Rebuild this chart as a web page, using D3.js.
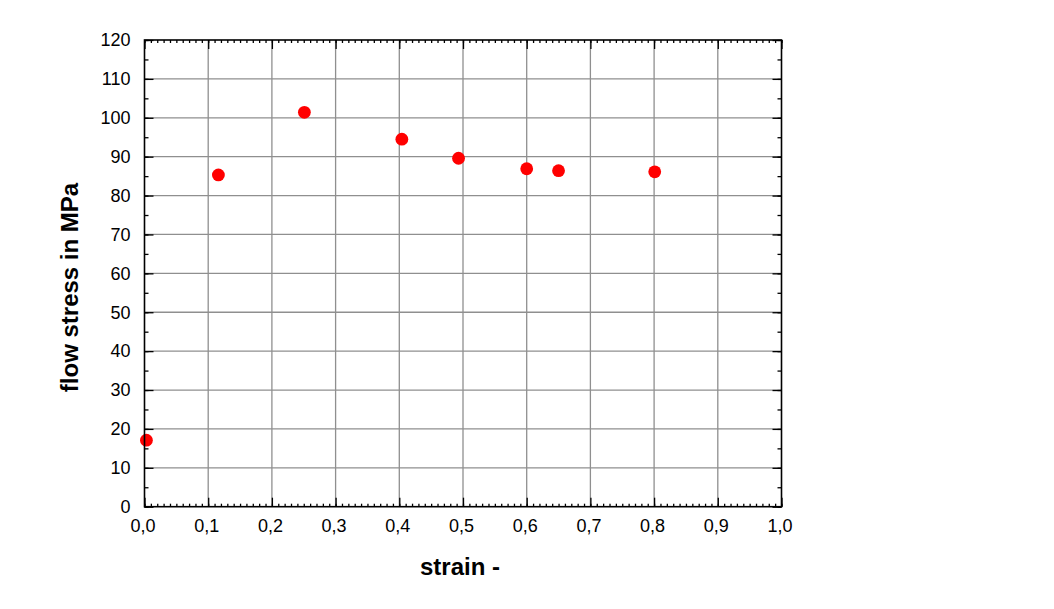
<!DOCTYPE html>
<html><head><meta charset="utf-8">
<script src="https://cdn.jsdelivr.net/npm/d3@7"></script>
<style>body{margin:0;background:#fff}svg{display:block}</style>
</head><body>
<svg id="c" width="1054" height="609"></svg>
<script>
const strain = [0.003, 0.116, 0.251, 0.404, 0.493, 0.600, 0.650, 0.801];
const flowStress = [17.1, 85.3, 101.4, 94.5, 89.6, 86.9, 86.4, 86.1];
const xTicks = [0,0.1,0.2,0.3,0.4,0.5,0.6,0.7,0.8,0.9,1.0];
const yTicks = [0,10,20,30,40,50,60,70,80,90,100,110,120];
const xTitle = "strain -";
const yTitle = "flow stress in MPa";

const L=144.5, R=781.5, T=40, B=506.7;
const svg = d3.select("#c");
const x = d3.scaleLinear().domain([0,1]).range([L,R]);
const y = d3.scaleLinear().domain([0,120]).range([B,T]);
const font = "Liberation Sans, Arial, sans-serif";

// grid
const g = svg.append("g");
g.selectAll("line.vx").data(xTicks.slice(1,-1)).join("line")
 .attr("x1",d=>x(d)).attr("x2",d=>x(d)).attr("y1",T).attr("y2",B)
 .attr("stroke","#8f8f8f").attr("stroke-width",1.3);
g.selectAll("line.hy").data(yTicks.slice(1,-1)).join("line")
 .attr("y1",d=>y(d)).attr("y2",d=>y(d)).attr("x1",L).attr("x2",R)
 .attr("stroke","#8f8f8f").attr("stroke-width",1.3);

// points
svg.append("g").selectAll("circle").data(strain).join("circle")
 .attr("cx",d=>x(d)).attr("cy",(d,i)=>y(flowStress[i])).attr("r",6.4).attr("fill","#ff0000");

// axes with inward ticks
const xMinor = d3.range(0,101).map(i=>i/100);
const yMinor = d3.range(0,25).map(i=>i*5);
function styleAxis(sel){
  sel.select(".domain").remove();
  sel.selectAll("line").attr("stroke","#000").attr("stroke-width",1.3);
}
// bottom
svg.append("g").attr("transform",`translate(0,${B})`)
 .call(d3.axisBottom(x).tickValues(xMinor).tickSize(-3).tickFormat(""))
 .call(styleAxis);
svg.append("g").attr("transform",`translate(0,${B})`)
 .call(d3.axisBottom(x).tickValues(xTicks).tickSize(-9).tickPadding(13)
   .tickFormat(d=>d3.format(".1f")(d).replace(".",",")))
 .call(styleAxis)
 .call(s=>s.selectAll("text").attr("font-family",font).attr("font-size",18).attr("fill","#000").attr("dx",-2));
// top
svg.append("g").attr("transform",`translate(0,${T})`)
 .call(d3.axisTop(x).tickValues(xMinor).tickSize(-3).tickFormat("")).call(styleAxis);
svg.append("g").attr("transform",`translate(0,${T})`)
 .call(d3.axisTop(x).tickValues(xTicks).tickSize(-9).tickFormat("")).call(styleAxis);
// left
svg.append("g").attr("transform",`translate(${L},0)`)
 .call(d3.axisLeft(y).tickValues(yMinor).tickSize(-4).tickFormat("")).call(styleAxis);
svg.append("g").attr("transform",`translate(${L},0)`)
 .call(d3.axisLeft(y).tickValues(yTicks).tickSize(-9).tickPadding(14).tickFormat(d3.format("d")))
 .call(styleAxis)
 .call(s=>s.selectAll("text").attr("font-family",font).attr("font-size",18).attr("fill","#000"));
// right
svg.append("g").attr("transform",`translate(${R},0)`)
 .call(d3.axisRight(y).tickValues(yMinor).tickSize(-4).tickFormat("")).call(styleAxis);
svg.append("g").attr("transform",`translate(${R},0)`)
 .call(d3.axisRight(y).tickValues(yTicks).tickSize(-9).tickFormat("")).call(styleAxis);

// frame
svg.append("rect").attr("x",L).attr("y",T).attr("width",R-L).attr("height",B-T)
 .attr("fill","none").attr("stroke","#000").attr("stroke-width",1.6);

// titles
svg.append("text").attr("x",460).attr("y",575).attr("text-anchor","middle")
 .attr("font-family",font).attr("font-weight","bold").attr("font-size",24).text(xTitle);
svg.append("text").attr("transform",`translate(78,287.5) rotate(-90)`).attr("text-anchor","middle")
 .attr("font-family",font).attr("font-weight","bold").attr("font-size",24).text(yTitle);
</script>
</body></html>
